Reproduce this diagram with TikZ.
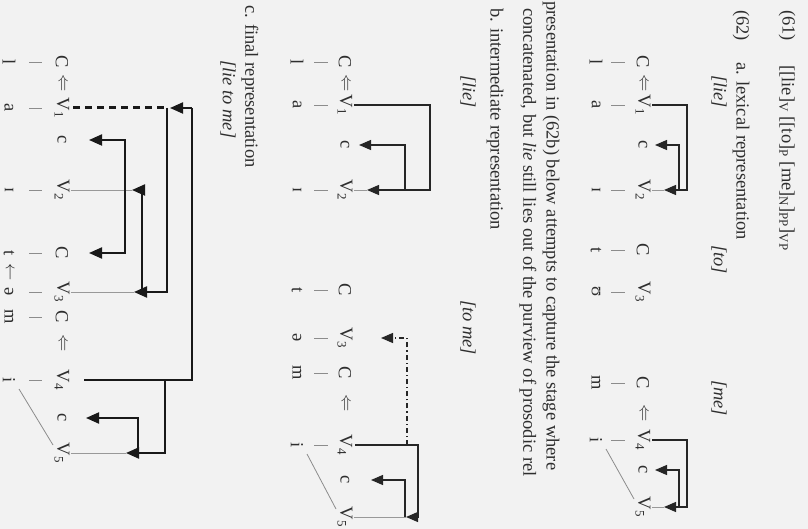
\documentclass[tikz,border=0pt]{standalone}
\usepackage{fontspec}
\setmainfont{Liberation Serif}
\usetikzlibrary{arrows.meta,calc}
\newcommand\fs{\fontsize{18.5}{22}\selectfont}
\begin{document}
\begin{tikzpicture}[x=1pt,y=-1pt,
  txt/.style={rotate=-90,anchor=west,inner sep=0pt,font=\fs,text=black!82},
  el/.style={rotate=-90,anchor=center,inner sep=0.5pt,font=\fs,text=black!82},
  assoc/.style={draw=black!45,line width=0.8pt},
  proj/.style={draw=black!40,line width=0.8pt},
  lineA/.style={draw=black!85,line width=1.2pt},
  arrA/.style={lineA,-{Triangle[length=12pt,width=10pt]}},
  dashB/.style={lineA,dash pattern=on 5pt off 3pt on 1.2pt off 3pt},
  lineC/.style={draw=black!90,line width=2pt},
  arrC/.style={lineC,-{Triangle[length=13pt,width=11pt]}},
  dblC/.style={lineC,{Triangle[length=13pt,width=11pt]}-{Triangle[length=13pt,width=11pt]}},
  dashC/.style={draw=black!90,line width=3pt,dash pattern=on 7pt off 5pt}]
\fill[black!5] (0,0) rectangle (808,529);
\useasboundingbox (0,0) rectangle (808,529);

% ---------- running text ----------
\node[txt] (t61) at (787,10) {(61)};
\node[txt] (t61b) at (787,65) {[[lie]\textsubscript{V} [[to]\textsubscript{P} [me]\textsubscript{N}]\textsubscript{PP}]\textsubscript{VP}};
\node[txt] (t62) at (741,10) {(62)};
\node[txt] (t62a) at (741,62) {a. lexical representation};
\node[txt] (la1) at (719,75) {\itshape [lie]};
\node[txt] (la2) at (719,245) {\itshape [to]};
\node[txt] (la3) at (719,380) {\itshape [me]};
\node[txt] (p1) at (551,1) {presentation in (62b) below attempts to capture the stage where};
\node[txt] (p2) at (528,8) {concatenated, but \textit{lie} still lies out of the purview of prosodic rel};
\node[txt] (t62b) at (495,8) {b. intermediate representation};
\node[txt] (lb1) at (468,75) {\itshape [lie]};
\node[txt] (lb2) at (468,300) {\itshape [to me]};
\node[txt] (t62c) at (250,5) {c. final representation};
\node[txt] (lc1) at (228,60) {\itshape [lie to me]};

% ---------- (62a) ----------
\foreach \n/\y/\t in {aC1/62/C, aA1/83/$\Leftarrow$, aV1/105/V\textsubscript{1}, ac1/145/c, aV2/190/V\textsubscript{2},
  aC2/250/C, aV3/292/V\textsubscript{3}, aC3/383/C, aA2/413/$\Leftarrow$, aV4/440/V\textsubscript{4}, ac2/470/c, aV5/507/V\textsubscript{5}}
  {\node[el] (\n) at (643,\y) {\t};}
\foreach \n/\y/\t in {as1/62/l, as2/105/a, as3/190/ɪ, as4/250/t, as5/292/ʊ, as6/383/m, as7/440/i}
  {\node[el] (\n) at (596,\y) {\t};}
\foreach \y in {62,105,190,250,292,383,440}
  {\draw[assoc] (611,\y) -- (625,\y);}
\draw[assoc] ($(as7.center)+(10,9)$) -- ($(aV5.center)+(-9,-8)$);
\draw[arrA] ($(aV1.center)+(9,0)$) -| ($(aV2.center)+(44,0)$) -- ($(aV2.center)+(21,0)$);
\draw[arrA] ($(aV2.center)+(36,0)$) |- ($(ac1.center)+(12,0)$);
\draw[proj] ($(aV2.center)+(9,0)$) -- ($(aV2.center)+(21,0)$);
\draw[arrA] ($(aV4.center)+(9,0)$) -| ($(aV5.center)+(44,0)$) -- ($(aV5.center)+(21,0)$);
\draw[arrA] ($(aV5.center)+(36,0)$) |- ($(ac2.center)+(12,0)$);
\draw[proj] ($(aV5.center)+(9,0)$) -- ($(aV5.center)+(21,0)$);

% ---------- (62b) ----------
\foreach \n/\y/\t in {bC1/62/C, bA1/83/$\Leftarrow$, bV1/105/V\textsubscript{1}, bc1/145/c, bV2/190/V\textsubscript{2},
  bC2/290/C, bV3/338/V\textsubscript{3}, bC3/373/C, bA2/403/$\Leftarrow$, bV4/445/V\textsubscript{4}, bc2/480/c, bV5/517/V\textsubscript{5}}
  {\node[el] (\n) at (345,\y) {\t};}
\foreach \n/\y/\t in {bs1/62/l, bs2/105/a, bs3/190/ɪ, bs4/290/t, bs5/338/ə, bs6/373/m, bs7/445/i}
  {\node[el] (\n) at (297,\y) {\t};}
\foreach \y in {62,105,190,290,338,373,445}
  {\draw[assoc] (314,\y) -- (328,\y);}
\draw[assoc] ($(bs7.center)+(10,9)$) -- ($(bV5.center)+(-9,-8)$);
\draw[arrA] ($(bV1.center)+(9,0)$) -| ($(bV2.center)+(85,0)$) -- ($(bV2.center)+(22,0)$);
\draw[arrA] ($(bV2.center)+(60,0)$) |- ($(bc1.center)+(14,0)$);
\draw[proj] ($(bV2.center)+(9,0)$) -- ($(bV2.center)+(22,0)$);
\coordinate (bK) at ($(bV4.center)+(62,0)$);
\draw[lineA] ($(bV4.center)+(10,0)$) -| ($(bV5.center)+(73,0)$);
\draw[arrA] ($(bV5.center)+(73,0)$) -- ($(bV5.center)+(61,0)$);
\draw[arrA] ($(bV5.center)+(60,0)$) |- ($(bc2.center)+(26,0)$);
\draw[proj] ($(bV5.center)+(9,0)$) -- ($(bV5.center)+(61,0)$);
\draw[dashB,-{Triangle[length=12pt,width=10pt]}] (bK) |- ($(bV3.center)+(36,0)$);

% ---------- (62c) ----------
\foreach \n/\y/\t in {cC1/62/C, cA1/83/$\Leftarrow$, cV1/108/V\textsubscript{1}, cc1/140/c, cV2/190/V\textsubscript{2},
  cC2/253/C, cV3/292/V\textsubscript{3}, cC3/317/C, cA2/343/$\Leftarrow$, cV4/380/V\textsubscript{4}, cc2/418/c, cV5/453/V\textsubscript{5}}
  {\node[el] (\n) at (62,\y) {\t};}
\foreach \n/\y/\t in {cs1/62/l, cs2/108/a, cs3/190/ɪ, cs4/253/t, cs5/292/ə, cs6/317/m, cs7/380/i}
  {\node[el] (\n) at (9,\y) {\t};}
\node[el] (carr) at (9,272) {$\leftarrow$};
\foreach \y in {62,108,190,253,292,317,380}
  {\draw[assoc] (29,\y) -- (42,\y);}
\draw[assoc] ($(cs7.center)+(10,9)$) -- ($(cV5.center)+(-9,-8)$);
\coordinate (cJ) at (167,108);
\coordinate (cK) at (192,108);
\draw[dashC] ($(cV1.center)+(11,0)$) -- (cJ);
\draw[arrC] (cJ) |- ($(cV3.center)+(72,0)$);
\draw[arrC] ($(cV3.center)+(80,0)$) |- ($(cV2.center)+(70,0)$);
\draw[proj] ($(cV2.center)+(9,0)$) -- ($(cV2.center)+(70,0)$);
\draw[proj] ($(cV3.center)+(9,0)$) -- ($(cV3.center)+(72,0)$);
\draw[dblC] ($(cc1.center)+(27,0)$) -- ($(cc1.center)+(63,0)$) -- ($(cC2.center)+(63,0)$) -- ($(cC2.center)+(27,0)$);
\draw[lineC] ($(cV4.center)+(22,0)$) -| (cK);
\draw[arrC] (cK) -- ($(cK)+(-22,0)$);
\draw[arrC] ($(cV4.center)+(103,0)$) |- ($(cV5.center)+(64,0)$);
\draw[arrC] ($(cV5.center)+(76,0)$) |- ($(cc2.center)+(24,0)$);
\draw[proj] ($(cV5.center)+(9,0)$) -- ($(cV5.center)+(64,0)$);
\end{tikzpicture}
\end{document}
